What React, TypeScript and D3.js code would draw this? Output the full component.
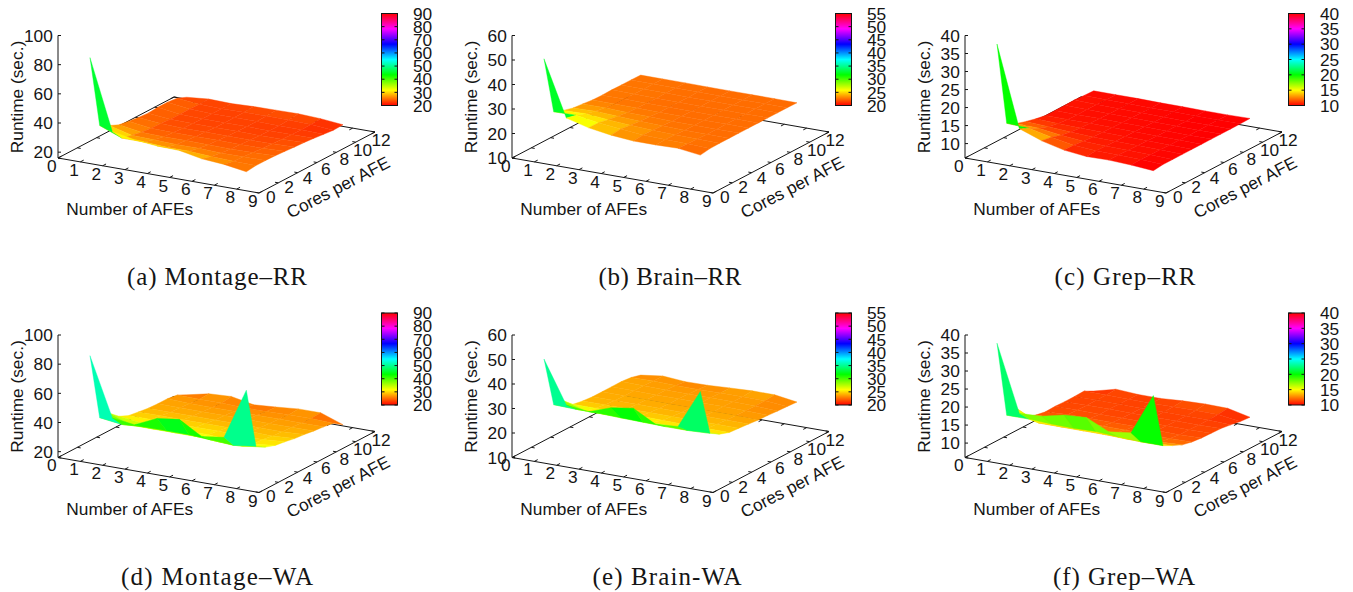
import React from 'react';
import * as d3 from 'd3';

// x axis: number of AFEs, y axis: cores per AFE. Rows are cores, columns AFEs.
const afes = [1, 2, 3, 4, 5, 6, 7, 8];
const cores = [1, 2, 3, 4, 5, 6, 7, 8, 9, 10, 11];

const montageRR = [
  [84, 36, 33, 31.4, 31, 28, 26.8, 24.4],
  [34, 28, 28, 27, 27, 26, 25.5, 25.2],
  [30.5, 26.5, 26, 25.5, 25.5, 25, 25, 25.2],
  [27.5, 25, 24.7, 24.7, 24.5, 24.3, 24.5, 25],
  [26.5, 24.3, 24, 24, 24, 23.8, 24, 24.5],
  [25.5, 24, 23.5, 23.5, 23.5, 23.4, 23.6, 24],
  [25, 23.5, 23.2, 23.2, 23.2, 23, 23.2, 23.6],
  [25.5, 23.5, 23, 23, 23, 22.8, 22.9, 23],
  [25.5, 23.5, 23, 23, 23, 22.8, 22.7, 22.2],
  [24.8, 23.3, 22.9, 23.2, 23.2, 23.2, 22.8, 21.5],
  [22, 23.4, 23, 23.6, 23.8, 24, 23.3, 21.8],
];
const brainRR = [
  [50, 27.4, 25, 23.6, 22.8, 22.8, 23, 21.8],
  [26.3, 26.5, 25, 24, 23.2, 22.9, 22.8, 22.4],
  [24.8, 25, 24.2, 23.5, 23, 22.8, 22.6, 22.5],
  [23.7, 24, 23.5, 23, 22.8, 22.6, 22.5, 22.5],
  [23.3, 23.3, 23, 22.8, 22.6, 22.5, 22.5, 22.5],
  [22.8, 22.8, 22.7, 22.6, 22.5, 22.5, 22.5, 22.5],
  [22.7, 22.7, 22.6, 22.5, 22.5, 22.5, 22.5, 22.5],
  [22.8, 22.7, 22.6, 22.5, 22.5, 22.5, 22.5, 22.5],
  [22.7, 22.7, 22.6, 22.5, 22.5, 22.5, 22.5, 22.5],
  [22.7, 22.6, 22.6, 22.5, 22.5, 22.5, 22.5, 22.5],
  [22.6, 22.6, 22.6, 22.5, 22.5, 22.5, 22.5, 22.4],
];
const grepRR = [
  [37.3, 14.9, 12.6, 11.1, 10.4, 10.5, 10.2, 9.7],
  [13.9, 13.6, 12.2, 11, 10.6, 10.5, 10.3, 10],
  [12.4, 12.2, 11.3, 10.7, 10.5, 10.4, 10.2, 10],
  [11.6, 11.2, 10.8, 10.5, 10.4, 10.3, 10.2, 10],
  [10.9, 10.7, 10.5, 10.4, 10.3, 10.2, 10.1, 10],
  [10.4, 10.4, 10.4, 10.3, 10.2, 10.1, 10.1, 10],
  [10.4, 10.3, 10.3, 10.2, 10.2, 10.1, 10, 10],
  [10.4, 10.3, 10.2, 10.2, 10.1, 10.1, 10, 10],
  [10.5, 10.3, 10.2, 10.2, 10.1, 10, 10, 10],
  [10.3, 10.2, 10.2, 10.1, 10.1, 10, 10, 10],
  [10.2, 10.2, 10.2, 10.1, 10.1, 10, 10, 10.1],
];
const montageWA = [
  [85, 45, 43, 50, 52, 43, 45, 80],
  [39, 37, 38, 38, 38, 37, 36, 38],
  [38.6, 33, 33, 33, 33, 32, 32, 34],
  [33, 31, 31, 31, 31, 30, 30, 31.7],
  [30, 30, 30, 30, 30, 29.5, 29.5, 30.7],
  [29, 29, 29, 29, 29, 29, 28.5, 29.4],
  [28, 28, 28, 28, 28, 28, 28, 28.7],
  [27.6, 27.6, 27.5, 27.5, 27.5, 27.5, 27.5, 27.7],
  [27.6, 27, 27, 27, 27, 27, 27, 27],
  [26.6, 26.5, 26.5, 26, 26, 26.5, 26.5, 26],
  [23.3, 26.7, 27.5, 24.5, 25.6, 27, 27, 21.5],
];
const brainWA = [
  [49.7, 32.5, 31.4, 34.6, 36, 31, 31.7, 47.6],
  [29, 28.7, 28.7, 28.4, 28.2, 28, 28, 28.4],
  [28.5, 26, 26, 26, 26, 25.8, 25.8, 26],
  [25, 25, 25, 25, 24.8, 24.7, 24.6, 24.6],
  [24.3, 24.3, 24.3, 24.3, 24.3, 24.3, 24.3, 24.3],
  [23.9, 24, 24, 24, 24, 24, 24, 23.9],
  [23.9, 23.9, 23.9, 23.8, 23.8, 23.8, 23.7, 23.5],
  [23.9, 23.8, 23.7, 23.7, 23.7, 23.7, 23.6, 23.3],
  [23.9, 23.8, 23.6, 23.6, 23.6, 23.6, 23.5, 23],
  [23.5, 23.7, 23.4, 23.4, 23.5, 23.6, 23.5, 22.8],
  [22.4, 23.6, 22.9, 23, 23.5, 23.9, 23.9, 22.5],
];
const grepWA = [
  [37.4, 19, 19.3, 20.7, 21.1, 18.2, 19, 30.4],
  [16, 16, 15.7, 15.6, 15.8, 15.4, 15.1, 15.1],
  [16.5, 13.5, 13.5, 13.5, 13.5, 13.3, 13.3, 13.7],
  [12.8, 12.5, 12.5, 12.5, 12.5, 12.3, 12.2, 12.5],
  [11.8, 12, 12, 12, 12, 11.9, 11.8, 11.9],
  [11.3, 11.6, 11.6, 11.6, 11.6, 11.5, 11.4, 11.6],
  [11.4, 11.5, 11.4, 11.4, 11.4, 11.4, 11.4, 11.5],
  [11.3, 11.4, 11.4, 11.3, 11.3, 11.3, 11.3, 11.4],
  [11.3, 11.4, 11.3, 11.3, 11.3, 11.3, 11.3, 11],
  [11.4, 11.4, 11.3, 11.3, 11.4, 11.4, 11.4, 10.5],
  [10, 11.6, 11.2, 11.2, 11.6, 11.8, 11.7, 10.3],
];

const xTicks = [0, 1, 2, 3, 4, 5, 6, 7, 8, 9];
const yTicks = [0, 2, 4, 6, 8, 10, 12];
const montageZ = [20, 40, 60, 80, 100];
const brainZ = [10, 20, 30, 40, 50, 60];
const grepZ = [10, 15, 20, 25, 30, 35, 40];
const montageCb = [20, 30, 40, 50, 60, 70, 80, 90];
const brainCb = [20, 25, 30, 35, 40, 45, 50, 55];
const grepCb = [10, 15, 20, 25, 30, 35, 40];

const panels = [
  { id: 'a', caption: '(a) Montage–RR', data: montageRR, zDomain: [16, 100], zTicks: montageZ, cb: montageCb, dx: 0, dy: 0, capX: 217, capW: 180 },
  { id: 'b', caption: '(b) Brain–RR', data: brainRR, zDomain: [10, 60], zTicks: brainZ, cb: brainCb, dx: 454, dy: 0, capX: 670, capW: 143 },
  { id: 'c', caption: '(c) Grep–RR', data: grepRR, zDomain: [6, 40], zTicks: grepZ, cb: grepCb, dx: 907, dy: 0, capX: 1125, capW: 141 },
  { id: 'd', caption: '(d) Montage–WA', data: montageWA, zDomain: [16, 100], zTicks: montageZ, cb: montageCb, dx: 0, dy: 299.5, capX: 217, capW: 192 },
  { id: 'e', caption: '(e) Brain-WA', data: brainWA, zDomain: [10, 60], zTicks: brainZ, cb: brainCb, dx: 454, dy: 299.5, capX: 667, capW: 149 },
  { id: 'f', caption: '(f) Grep–WA', data: grepWA, zDomain: [6, 40], zTicks: grepZ, cb: grepCb, dx: 907, dy: 299.5, capX: 1124, capW: 142 },
];

const sans = '"Liberation Sans", Arial, sans-serif';
const ink = '#151515';
const tickSize = 17.3;

// floor of the 3d box: the x and y axes each move a point across and down the page
const xAcross = d3.scaleLinear().domain([0, 9]).range([0, 201]);
const xDown = d3.scaleLinear().domain([0, 9]).range([0, 35]);
const yAcross = d3.scaleLinear().domain([0, 12]).range([0, 116]);
const yDown = d3.scaleLinear().domain([0, 12]).range([0, -61]);
const floorX = (x: number, y: number) => 58 + xAcross(x) + yAcross(y);
const floorY = (x: number, y: number) => 158 + xDown(x) + yDown(y);

const line = d3.line();

// gnuplot's hsv palette, clamped to the colour box
function paletteColor(cb: number[], v: number) {
  const t = d3.scaleLinear().domain(d3.extent(cb) as number[]).range([0, 1]).clamp(true)(v);
  return d3.hsl(t * 360, 1, 0.5).formatHex();
}

function Panel({ p }: { p: any }) {
  const zHeight = d3.scaleLinear().domain(p.zDomain).range([0, 122.5]);
  const proj = (x: number, y: number, z: number): [number, number] => [floorX(x, y), floorY(x, y) - zHeight(z)];

  // pm3d facets, painted back to front, coloured by the mean of the corners
  const facets: { d: string; c: string; depth: number }[] = [];
  cores.slice(0, -1).forEach((cy, j) => {
    afes.slice(0, -1).forEach((ax, i) => {
      const pts = [
        proj(ax, cy, p.data[j][i]),
        proj(afes[i + 1], cy, p.data[j][i + 1]),
        proj(afes[i + 1], cores[j + 1], p.data[j + 1][i + 1]),
        proj(ax, cores[j + 1], p.data[j + 1][i]),
      ];
      const mean = (p.data[j][i] + p.data[j][i + 1] + p.data[j + 1][i + 1] + p.data[j + 1][i]) / 4;
      facets.push({
        d: line(pts) + 'Z',
        c: paletteColor(p.cb, mean),
        depth: floorY(ax + 0.5, cy + 0.5),
      });
    });
  });
  facets.sort((a, b) => a.depth - b.depth);

  const xLabelX = d3.scaleLinear().domain([0, 9]).range([51.7, 252.7]);
  const xLabelY = d3.scaleLinear().domain([0, 9]).range([165.7, 201]);
  const yLabelX = d3.scaleLinear().domain([0, 12]).range([270.7, 381]);
  const yLabelY = d3.scaleLinear().domain([0, 12]).range([196.7, 140]);

  const cbExtent = d3.extent(p.cb) as number[];
  const cbY = d3.scaleLinear().domain(cbExtent).range([105.5, 13.5]);
  const gradStops = d3.range(0, 1.001, 1 / 24);

  return (
    <g transform={`translate(${p.dx},${p.dy})`}>
      {/* floor of the box */}
      <path
        d={(line([[floorX(0, 0), floorY(0, 0)], [floorX(9, 0), floorY(9, 0)], [floorX(9, 12), floorY(9, 12)], [floorX(0, 12), floorY(0, 12)]]) as string) + 'Z'}
        fill="none" stroke={ink} strokeWidth={1}
      />
      {xTicks.map(t => (
        <g key={'xt' + t}>
          <line x1={floorX(t, 0)} y1={floorY(t, 0)} x2={floorX(t, 0.35)} y2={floorY(t, 0.35)} stroke={ink} />
          <line x1={floorX(t, 12)} y1={floorY(t, 12)} x2={floorX(t, 11.65)} y2={floorY(t, 11.65)} stroke={ink} />
          <text x={xLabelX(t)} y={xLabelY(t)} dy="0.36em" textAnchor="middle" fontFamily={sans} fontSize={tickSize} fill={ink}>{t}</text>
        </g>
      ))}
      {yTicks.map(t => (
        <g key={'yt' + t}>
          <line x1={floorX(9, t)} y1={floorY(9, t)} x2={floorX(8.85, t)} y2={floorY(8.85, t)} stroke={ink} />
          <line x1={floorX(0, t)} y1={floorY(0, t)} x2={floorX(0.15, t)} y2={floorY(0.15, t)} stroke={ink} />
          <text x={yLabelX(t)} y={yLabelY(t)} dy="0.36em" textAnchor="middle" fontFamily={sans} fontSize={tickSize} fill={ink}>{t}</text>
        </g>
      ))}

      {/* vertical axis */}
      <line x1={58} y1={158} x2={58} y2={158 - 122.5} stroke={ink} />
      {p.zTicks.map((t: number) => (
        <g key={'zt' + t}>
          <line x1={58} x2={61} y1={158 - zHeight(t)} y2={158 - zHeight(t)} stroke={ink} />
          <text x={52.8} y={158 - zHeight(t)} dy="0.36em" textAnchor="end" fontFamily={sans} fontSize={tickSize} fill={ink}>{t}</text>
        </g>
      ))}

      {facets.map((f, i) => (
        <path key={i} d={f.d} fill={f.c} stroke={f.c} strokeWidth={0.4} />
      ))}

      <text transform="translate(17,97) rotate(-90)" dy="0.36em" textAnchor="middle" fontFamily={sans} fontSize={tickSize} fill={ink}>Runtime (sec.)</text>
      <text x={129.7} y={209} dy="0.36em" textAnchor="middle" fontFamily={sans} fontSize={tickSize} fill={ink}>Number of AFEs</text>
      <text transform="translate(338,187) rotate(-27.5)" dy="0.36em" textAnchor="middle" fontFamily={sans} fontSize={tickSize} fill={ink}>Cores per AFE</text>

      {/* colour box */}
      <defs>
        <linearGradient id={'cb' + p.id} x1="0" x2="0" y1="1" y2="0">
          {gradStops.map(s => (
            <stop key={s} offset={s} stopColor={d3.hsl(s * 360, 1, 0.5).formatHex()} />
          ))}
        </linearGradient>
      </defs>
      <rect x={381.5} y={13.5} width={16} height={92} fill={`url(#cb${p.id})`} stroke={ink} strokeWidth={1} />
      {p.cb.map((t: number) => (
        <g key={'cb' + t}>
          <line x1={381.5} x2={384.5} y1={cbY(t)} y2={cbY(t)} stroke={ink} />
          <line x1={397.5} x2={394.5} y1={cbY(t)} y2={cbY(t)} stroke={ink} />
          <text x={413} y={cbY(t)} dy="0.36em" fontFamily={sans} fontSize={tickSize} fill={ink}>{t}</text>
        </g>
      ))}

      <text x={p.capX - p.dx} y={285} textAnchor="middle" textLength={p.capW} lengthAdjust="spacing" fontFamily='"Liberation Serif", serif' fontSize={25} fill={ink}>{p.caption}</text>
    </g>
  );
}

export default function App() {
  return (
    <svg width={1353} height={592} style={{ position: 'absolute', left: 0, top: 0, display: 'block', background: '#fff' }}>
      {panels.map(p => <Panel key={p.id} p={p} />)}
    </svg>
  );
}
